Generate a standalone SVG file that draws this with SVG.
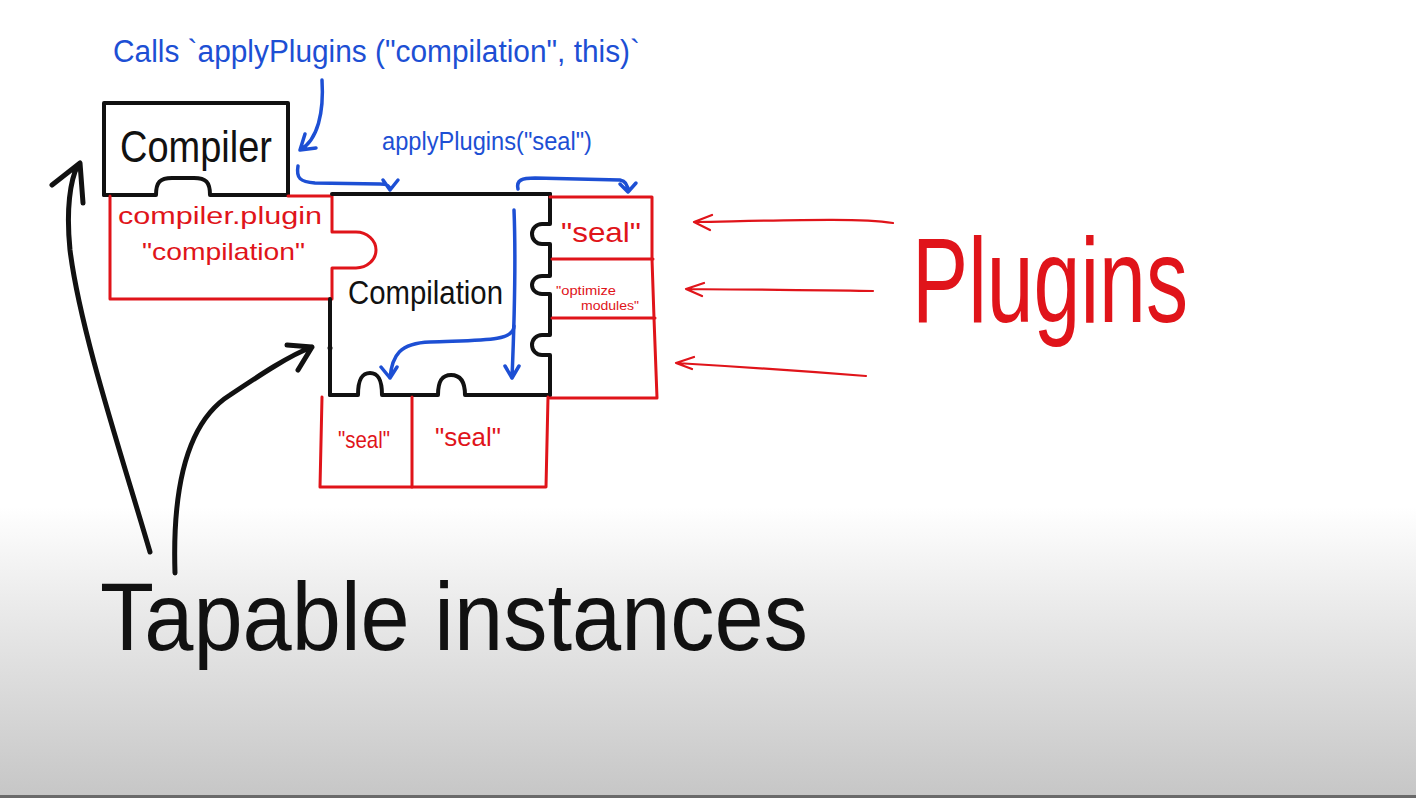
<svg xmlns="http://www.w3.org/2000/svg" width="1416" height="798" viewBox="0 0 1416 798">
<style>
.blk{fill:none;stroke:#111;stroke-width:4;stroke-linecap:round;stroke-linejoin:round}
.red{fill:none;stroke:#e0141a;stroke-width:3;stroke-linecap:round;stroke-linejoin:round}
.blu{fill:none;stroke:#1d4fd4;stroke-width:3.5;stroke-linecap:round;stroke-linejoin:round}
.big{fill:none;stroke:#111;stroke-width:5;stroke-linecap:round;stroke-linejoin:round}
.rarr{fill:none;stroke:#e0141a;stroke-width:2.2;stroke-linecap:round;stroke-linejoin:round}
text{font-family:"Liberation Sans","DejaVu Sans",sans-serif}
.tb{fill:#111}
.tr{fill:#e0141a}
.tu{fill:#1d4fd4}
</style>
<defs>
<linearGradient id="bg" x1="0" y1="0" x2="0" y2="798" gradientUnits="userSpaceOnUse">
<stop offset="0" stop-color="#ffffff"/>
<stop offset="0.635" stop-color="#ffffff"/>
<stop offset="0.75" stop-color="#ececec"/>
<stop offset="0.88" stop-color="#d8d8d8"/>
<stop offset="1" stop-color="#c6c6c6"/>
</linearGradient>
</defs>
<rect x="0" y="0" width="1416" height="798" fill="url(#bg)"/>
<rect x="0" y="795" width="1416" height="3" fill="#6a6a6a"/>

<g id="compiler">
<path class="blk" d="M104,195 V103 H288 V195"/>
<path class="blk" d="M104,195 H156 C156,182 160,178 172,178 H194 C206,178 210,182 210,195 H288"/>
<text class="tb" x="120" y="162" font-size="44" textLength="152" lengthAdjust="spacingAndGlyphs">Compiler</text>
</g>

<g id="compiler-plugin">
<path class="red" d="M288,196 H332 V232 H356 A20,18 0 0 1 356,268 H332 V299 H110 V196"/>
<text class="tr" x="118" y="224" font-size="23" textLength="204" lengthAdjust="spacingAndGlyphs">compiler.plugin</text>
<text class="tr" x="142" y="260" font-size="24" textLength="163" lengthAdjust="spacingAndGlyphs">"compilation"</text>
</g>

<g id="compilation">
<path class="blk" d="M332,194 H550"/>
<path class="blk" d="M330,299 V395"/>
<circle cx="330" cy="348" r="2.5" fill="#111"/>
<path class="blk" d="M550,194 V224 H542 A10,10 0 0 0 542,244 H550 V276 H542 A10,9 0 0 0 542,294 H550 V335 H542 A10,10 0 0 0 542,355 H550 V395"/>
<path class="blk" d="M330,395 H358 C358,379 362,373 370,373 C378,373 382,379 382,395 H438 C438,381 442,375 451,375 C460,375 465,381 465,395 H550"/>
<text class="tb" x="348" y="304" font-size="34" textLength="155" lengthAdjust="spacingAndGlyphs">Compilation</text>
</g>

<g id="seal-plugin">
<path class="red" d="M550,197 H652 V259 M552,259 H653"/>
<text class="tr" x="561" y="242" font-size="28" textLength="80" lengthAdjust="spacingAndGlyphs">"seal"</text>
</g>
<g id="optimize-plugin">
<path class="red" d="M652,259 L654,318 M552,318 H655"/>
<text class="tr" x="556" y="295" font-size="13" textLength="60" lengthAdjust="spacingAndGlyphs">"optimize</text>
<text class="tr" x="581" y="310" font-size="13" textLength="58" lengthAdjust="spacingAndGlyphs">modules"</text>
</g>
<g id="empty-plugin">
<path class="red" d="M654,318 L657,398 H550"/>
</g>

<g id="seal-bottom-1">
<path class="red" d="M322,397 L320,487 H412 V397"/>
<text class="tr" x="338" y="448" font-size="24" textLength="52" lengthAdjust="spacingAndGlyphs">"seal"</text>
</g>
<g id="seal-bottom-2">
<path class="red" d="M412,487 H546 L548,397"/>
<text class="tr" x="435" y="446" font-size="25" textLength="66" lengthAdjust="spacingAndGlyphs">"seal"</text>
</g>

<g id="labels">
<text class="tu" x="113" y="62" font-size="31" textLength="527" lengthAdjust="spacingAndGlyphs">Calls `applyPlugins ("compilation", this)`</text>
<text class="tu" x="382" y="150" font-size="26" textLength="210" lengthAdjust="spacingAndGlyphs">applyPlugins("seal")</text>
<text class="tr" x="912" y="322" font-size="120" textLength="276" lengthAdjust="spacingAndGlyphs">Plugins</text>
<text class="tb" x="100" y="650" font-size="96" textLength="708" lengthAdjust="spacingAndGlyphs">Tapable instances</text>
</g>

<g id="connectors">
<path class="blu" d="M322,80 C324,112 318,140 300,150 M300,150 L305,134 M300,150 L316,148"/>
<path class="blu" d="M298,166 C296,178 300,182 315,183 L380,184 C388,184 390,186 390,190 M390,190 L383,180 M390,190 L398,180"/>
<path class="blu" d="M518,189 C516,180 522,178 535,178 L620,180 C626,181 628,185 628,192 M628,192 L620,184 M628,192 L636,183"/>
<path class="blu" d="M514,210 C516,260 514,330 512,378 M512,378 L505,366 M512,378 L519,366"/>
<path class="blu" d="M514,326 C514,342 480,340 430,342 C400,343 392,355 390,378 M390,378 L381,367 M390,378 L397,367"/>
<path class="rarr" d="M893,223 C860,218 800,220 695,222 M712,215 L694,222 L710,230"/>
<path class="rarr" d="M873,291 C840,290 780,290 686,289 M704,283 L686,289 L702,296"/>
<path class="rarr" d="M866,376 C840,374 760,368 676,363 M694,357 L676,363 L692,369"/>
<path class="big" d="M150,552 C120,450 80,330 70,250 C66,210 70,180 78,165 M52,185 L80,163 L83,203"/>
<path class="big" d="M175,573 C172,480 190,420 230,395 C260,375 290,355 312,347 M287,345 L312,347 L298,370"/>
</g>
</svg>
